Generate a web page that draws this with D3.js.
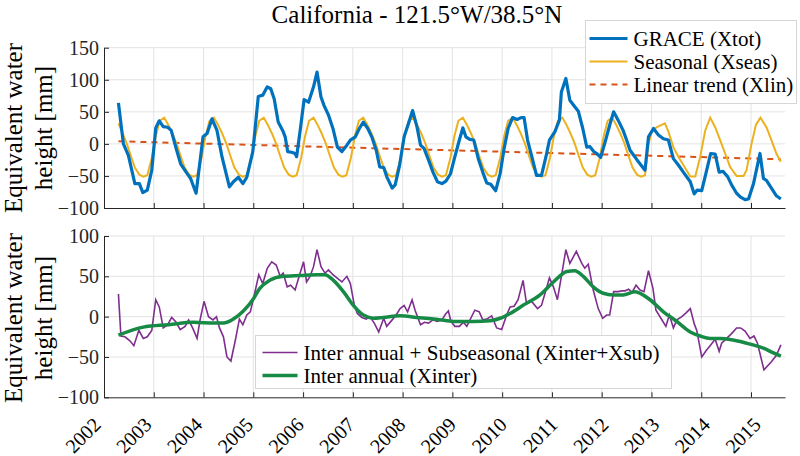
<!DOCTYPE html>
<html>
<head>
<meta charset="utf-8">
<script src="https://cdn.jsdelivr.net/npm/d3@7"></script>
<style>
	body { margin: 0; background: #fff; }
	svg { font-family: "Liberation Serif", "Times New Roman", serif; }
	.grid line { stroke: #e3e3e3; stroke-width: 1; }
	.axis path, .axis line { stroke: #262626; stroke-width: 1; }
	.axis text { fill: #262626; font-size: 20px; font-family: "Liberation Serif", serif; }
</style>
</head>
<body>
<svg id="chart"></svg>
<script>
// tick labels
const years		= [2002, 2003, 2004, 2005, 2006, 2007, 2008, 2009, 2010, 2011, 2012, 2013, 2014, 2015];
const topTicks	= [-100, -50, 0, 50, 100, 150];
const botTicks	= [-100, -50, 0, 50, 100];

// [decimal year, mm]
const xtot = [
	[2002.29,64],[2002.39,0],[2002.49,-18],[2002.62,-62],[2002.71,-62],[2002.78,-76],[2002.87,-72],[2002.96,-41],
	[2003.04,25],[2003.11,36],[2003.19,27],[2003.28,26],[2003.35,21],[2003.46,-10],[2003.54,-31],[2003.65,-44],[2003.74,-54],[2003.85,-77],
	[2003.99,11],[2004.07,16],[2004.17,39],[2004.27,21],[2004.37,-20],[2004.52,-67],[2004.60,-59],[2004.70,-52],[2004.79,-62],[2004.87,-52],
	[2004.99,-12],[2005.10,74],[2005.19,76],[2005.28,89],[2005.35,86],[2005.42,70],[2005.50,34],[2005.59,21],[2005.64,11],[2005.69,-12],
	[2005.77,-13],[2005.84,-15],[2005.87,-20],[2005.95,26],[2006.02,69],[2006.11,65],[2006.21,89],[2006.28,112],[2006.36,73],[2006.42,60],
	[2006.51,45],[2006.60,24],[2006.69,-5],[2006.78,-12],[2006.88,-2],[2006.95,6],[2007.05,11],[2007.13,24],[2007.21,34],[2007.30,24],
	[2007.38,11],[2007.47,-10],[2007.54,-36],[2007.62,-37],[2007.68,-51],[2007.79,-69],[2007.85,-64],[2007.94,-33],[2008.03,11],[2008.12,32],
	[2008.20,52],[2008.29,26],[2008.36,-2],[2008.43,-7],[2008.52,-25],[2008.61,-44],[2008.70,-59],[2008.79,-62],[2008.87,-58],[2008.96,-47],
	[2009.05,-20],[2009.14,6],[2009.21,25],[2009.27,11],[2009.35,7],[2009.43,6],[2009.52,-23],[2009.61,-44],[2009.69,-61],[2009.77,-63],
	[2009.87,-73],[2009.96,-46],[2010.04,-7],[2010.12,24],[2010.21,41],[2010.30,38],[2010.38,41],[2010.44,41],[2010.51,6],[2010.59,-18],
	[2010.69,-49],[2010.79,-49],[2010.88,-20],[2010.95,6],[2011.06,19],[2011.15,37],[2011.19,81],[2011.28,102],[2011.36,68],[2011.44,60],
	[2011.53,51],[2011.62,24],[2011.70,-5],[2011.76,-4],[2011.84,-12],[2011.90,-15],[2011.98,-21],[2012.08,6],[2012.16,29],[2012.24,50],
	[2012.33,37],[2012.43,21],[2012.50,6],[2012.57,-10],[2012.71,-25],[2012.87,-41],[2012.94,11],[2013.04,24],[2013.14,14],[2013.24,8],
	[2013.34,6],[2013.44,-23],[2013.54,-33],[2013.64,-44],[2013.78,-59],[2013.86,-78],[2013.92,-72],[2014.01,-73],[2014.10,-44],[2014.19,-15],
	[2014.28,-16],[2014.36,-44],[2014.44,-43],[2014.53,-51],[2014.61,-64],[2014.71,-77],[2014.79,-83],[2014.88,-87],[2014.95,-86],[2015.05,-62],
	[2015.13,-33],[2015.18,-15],[2015.25,-54],[2015.31,-57],[2015.41,-69],[2015.51,-81],[2015.60,-86]
];

const xseas = [
	[2002.29,32],[2002.37,17],[2002.46,0],[2002.54,-19],[2002.62,-37],[2002.71,-48],[2002.79,-51],[2002.87,-49],[2002.96,-22],
	[2003.04,12],[2003.12,36],[2003.21,41],[2003.29,30],[2003.37,17],[2003.46,0],[2003.54,-19],[2003.62,-37],[2003.71,-48],[2003.79,-51],[2003.87,-49],[2003.96,-22],
	[2004.04,12],[2004.12,36],[2004.21,41],[2004.29,30],[2004.37,17],[2004.46,0],[2004.54,-19],[2004.62,-37],[2004.71,-48],[2004.79,-51],[2004.87,-49],[2004.96,-22],
	[2005.04,12],[2005.12,36],[2005.21,41],[2005.29,30],[2005.37,17],[2005.46,0],[2005.54,-19],[2005.62,-37],[2005.71,-48],[2005.79,-51],[2005.87,-49],[2005.96,-22],
	[2006.04,12],[2006.12,36],[2006.21,41],[2006.29,30],[2006.37,17],[2006.46,0],[2006.54,-19],[2006.62,-37],[2006.71,-48],[2006.79,-51],[2006.87,-49],[2006.96,-22],
	[2007.04,12],[2007.12,36],[2007.21,41],[2007.29,30],[2007.37,17],[2007.46,0],[2007.54,-19],[2007.62,-37],[2007.71,-48],[2007.79,-51],[2007.87,-49],[2007.96,-22],
	[2008.04,12],[2008.12,36],[2008.21,41],[2008.29,30],[2008.37,17],[2008.46,0],[2008.54,-19],[2008.62,-37],[2008.71,-48],[2008.79,-51],[2008.87,-49],[2008.96,-22],
	[2009.04,12],[2009.12,36],[2009.21,41],[2009.29,30],[2009.37,17],[2009.46,0],[2009.54,-19],[2009.62,-37],[2009.71,-48],[2009.79,-51],[2009.87,-49],[2009.96,-22],
	[2010.04,12],[2010.12,36],[2010.21,41],[2010.29,30],[2010.37,17],[2010.46,0],[2010.54,-19],[2010.62,-37],[2010.71,-48],[2010.79,-51],[2010.87,-49],[2010.96,-22],
	[2011.04,12],[2011.12,36],[2011.21,41],[2011.29,30],[2011.37,17],[2011.46,0],[2011.54,-19],[2011.62,-37],[2011.71,-48],[2011.79,-51],[2011.87,-49],[2011.96,-22],
	[2012.04,12],[2012.12,36],[2012.21,41],[2012.29,30],[2012.37,17],[2012.46,0],[2012.54,-19],[2012.62,-37],[2012.71,-48],[2012.79,-51],[2012.87,-49],[2012.94,0],
	[2013.01,21],[2013.11,26],[2013.27,32],[2013.34,19],[2013.44,-5],[2013.54,-20],[2013.68,-38],[2013.78,-51],[2013.88,-51],[2013.98,-20],
	[2014.08,21],[2014.18,41],[2014.28,26],[2014.38,6],[2014.48,-15],[2014.58,-36],[2014.71,-50],[2014.85,-50],[2014.91,-41],[2015.01,0],
	[2015.10,30],[2015.19,41],[2015.31,26],[2015.41,6],[2015.51,-15],[2015.60,-28]
];

const xlin = [[2002.29,4],[2015.60,-24]];

const xsub = [
	[2002.29,28],[2002.34,-24],[2002.42,-25],[2002.52,-30],[2002.60,-36],[2002.70,-17],[2002.79,-27],[2002.87,-25],[2002.96,-17],
	[2003.04,21],[2003.11,12],[2003.19,-14],[2003.28,-10],[2003.36,-1],[2003.45,-7],[2003.53,-16],[2003.63,-12],[2003.70,-4],[2003.78,-14],
	[2003.87,-27],[2003.93,-4],[2004.01,19],[2004.10,0],[2004.19,-4],[2004.26,0],[2004.32,-14],[2004.40,-25],[2004.47,-50],[2004.55,-55],
	[2004.64,-29],[2004.72,-3],[2004.79,-10],[2004.87,2],[2004.94,6],[2005.02,27],[2005.11,52],[2005.19,41],[2005.28,60],[2005.37,68],
	[2005.46,64],[2005.54,50],[2005.60,54],[2005.68,37],[2005.75,39],[2005.84,33],[2005.93,52],[2006.01,68],[2006.07,43],[2006.14,50],
	[2006.21,62],[2006.28,83],[2006.36,62],[2006.44,54],[2006.51,58],[2006.60,52],[2006.68,48],[2006.78,43],[2006.88,50],[2006.95,41],
	[2007.03,14],[2007.09,4],[2007.18,-1],[2007.27,-3],[2007.34,0],[2007.43,-8],[2007.52,-19],[2007.62,-2],[2007.68,-12],[2007.79,-4],
	[2007.87,2],[2007.95,10],[2008.03,14],[2008.10,6],[2008.19,21],[2008.25,8],[2008.36,-10],[2008.44,-7],[2008.52,-8],[2008.61,-4],
	[2008.69,-6],[2008.79,-4],[2008.86,3],[2008.92,7],[2008.97,-6],[2009.05,-12],[2009.14,-12],[2009.22,-7],[2009.29,-12],[2009.37,-2],
	[2009.45,8],[2009.54,6],[2009.61,-4],[2009.69,-3],[2009.79,1],[2009.89,-14],[2009.99,-16],[2010.09,2],[2010.16,12],[2010.24,13],
	[2010.32,21],[2010.42,45],[2010.49,16],[2010.59,19],[2010.71,10],[2010.79,14],[2010.88,33],[2010.95,48],[2011.03,37],[2011.11,21],
	[2011.19,50],[2011.28,83],[2011.36,66],[2011.49,81],[2011.60,66],[2011.66,60],[2011.73,65],[2011.83,33],[2011.93,10],[2012.02,-2],
	[2012.10,2],[2012.16,2],[2012.24,31],[2012.33,31],[2012.41,32],[2012.47,32],[2012.54,34],[2012.61,30],[2012.69,39],[2012.77,33],
	[2012.85,31],[2012.94,57],[2013.03,35],[2013.09,8],[2013.19,-2],[2013.29,-12],[2013.36,2],[2013.44,-14],[2013.51,-4],[2013.61,0],
	[2013.70,5],[2013.78,10],[2013.86,-9],[2013.91,-17],[2014.01,-50],[2014.10,-42],[2014.19,-35],[2014.28,-28],[2014.36,-43],[2014.41,-33],
	[2014.51,-27],[2014.61,-21],[2014.71,-14],[2014.79,-14],[2014.88,-18],[2014.98,-27],[2015.06,-24],[2015.13,-33],[2015.26,-66],[2015.41,-56],
	[2015.51,-48],[2015.60,-35]
];

const xinter = [
	[2002.29,-23],[2002.79,-13],[2003.30,-10],[2003.80,-7],[2004.20,-8],[2004.40,-8],[2004.60,-3],[2004.80,7],[2005.00,22],[2005.13,35],
	[2005.33,45],[2005.60,50],[2005.94,51],[2006.28,52],[2006.44,52],[2006.61,45],[2006.81,31],[2007.01,14],[2007.21,2],[2007.42,-2],
	[2007.61,-1],[2007.95,1],[2008.28,-1],[2008.62,-3],[2008.89,-5],[2009.09,-6],[2009.42,-6],[2009.76,-5],[2009.96,-2],[2010.16,4],
	[2010.42,14],[2010.76,27],[2011.03,43],[2011.30,56],[2011.46,57],[2011.63,50],[2011.83,37],[2012.03,29],[2012.23,27],[2012.43,27],
	[2012.67,31],[2012.97,21],[2013.24,6],[2013.51,-6],[2013.78,-19],[2013.98,-24],[2014.18,-27],[2014.38,-27],[2014.64,-29],[2014.98,-34],
	[2015.25,-39],[2015.45,-45],[2015.60,-49]
];

let canvasWidth		= 800;
let canvasHeight	= 456;
let left			= 104;
let right			= 785;

let svg = d3.select('#chart')
	.attr('width', canvasWidth)
	.attr('height', canvasHeight);

let x = d3.scaleLinear()
	.domain([2002, 2002 + (right - left) / 49.77])
	.range([left, right]);

let yTop = d3.scaleLinear().domain([-100, 150]).range([208, 47.7]);
let yBot = d3.scaleLinear().domain([-100, 100]).range([397.3, 236]);

function panel(y, ticks) {
	let g = svg.append('g');
	let [y0, y1] = y.range();

	let grid = g.append('g').attr('class', 'grid');
	grid.selectAll('.gx').data(years.slice(1)).enter()
		.append('line')
			.attr('x1', (d) => x(d)).attr('x2', (d) => x(d))
			.attr('y1', y0).attr('y2', y1);
	grid.selectAll('.gy').data(ticks.slice(1)).enter()
		.append('line')
			.attr('x1', left).attr('x2', right)
			.attr('y1', (d) => y(d)).attr('y2', (d) => y(d));

	g.append('g')
		.attr('class', 'axis')
		.attr('transform', 'translate(' + left + ',0)')
		.call(d3.axisLeft(y).tickValues(ticks).tickSize(-5).tickSizeOuter(0).tickPadding(5));

	g.append('g')
		.attr('class', 'axis')
		.attr('transform', 'translate(0,' + y0 + ')')
		.call(d3.axisBottom(x).tickValues(years).tickSize(-5).tickSizeOuter(0).tickFormat(''));

	return g;
}

function ylabel(cy) {
	let t = svg.append('text')
		.attr('transform', 'translate(22,' + cy + ') rotate(-90)')
		.attr('text-anchor', 'middle')
		.style('font-size', '25px')
		.attr('fill', '#000');
	t.append('tspan').attr('x', 0).attr('y', 0).text('Equivalent water');
	t.append('tspan').attr('x', 0).attr('y', 30).text('height [mm]');
}

function lineOf(y, curve) {
	return d3.line().x((d) => x(d[0])).y((d) => y(d[1])).curve(curve || d3.curveLinear);
}

function legend(g, x0, y0, w, h, items) {
	let lg = g.append('g').attr('transform', 'translate(' + x0 + ',' + y0 + ')');
	lg.append('rect')
		.attr('width', w).attr('height', h)
		.attr('fill', '#fff').attr('stroke', '#d6d6d6').attr('stroke-width', 1);
	items.forEach((o, i) => {
		let cy = o.dy;
		lg.append('line')
			.attr('x1', o.lx0).attr('x2', o.lx1)
			.attr('y1', cy).attr('y2', cy)
			.attr('stroke', o.color).attr('stroke-width', o.width)
			.attr('stroke-dasharray', o.dash || null);
		lg.append('text')
			.attr('x', o.tx).attr('y', cy + 7)
			.style('font-size', '21px')
			.attr('fill', '#000')
			.text(o.label);
	});
}

// top panel
let top_ = panel(yTop, topTicks);
top_.append('path').attr('d', lineOf(yTop)(xlin))
	.attr('fill', 'none').attr('stroke', '#D95319').attr('stroke-width', 2).attr('stroke-dasharray', '6,5');
top_.append('path').attr('d', lineOf(yTop)(xseas))
	.attr('fill', 'none').attr('stroke', '#EDB120').attr('stroke-width', 2);
top_.append('path').attr('d', lineOf(yTop)(xtot))
	.attr('fill', 'none').attr('stroke', '#0072BD').attr('stroke-width', 3.2).attr('stroke-linejoin', 'round');

legend(svg, 585.5, 20.5, 211, 83, [
	{ label: 'GRACE (Xtot)', color: '#0072BD', width: 3.2, dy: 18, lx0: 4, lx1: 42, tx: 48 },
	{ label: 'Seasonal (Xseas)', color: '#EDB120', width: 2, dy: 41, lx0: 4, lx1: 42, tx: 48 },
	{ label: 'Linear trend (Xlin)', color: '#D95319', width: 2, dash: '6,5', dy: 64, lx0: 4, lx1: 42, tx: 48 }
]);

// bottom panel
let bot = panel(yBot, botTicks);
bot.append('path').attr('d', lineOf(yBot)(xsub))
	.attr('fill', 'none').attr('stroke', '#7E2F8E').attr('stroke-width', 1.6);
bot.append('path').attr('d', lineOf(yBot, d3.curveMonotoneX)(xinter))
	.attr('fill', 'none').attr('stroke', '#178A46').attr('stroke-width', 3.5);

legend(svg, 255.5, 335.5, 416, 53, [
	{ label: 'Inter annual + Subseasonal (Xinter+Xsub)', color: '#7E2F8E', width: 1.6, dy: 17, lx0: 7, lx1: 42, tx: 48 },
	{ label: 'Inter annual (Xinter)', color: '#178A46', width: 3.5, dy: 40, lx0: 7, lx1: 42, tx: 48 }
]);

// rotated year labels
svg.append('g').selectAll('text').data(years).enter()
	.append('text')
		.attr('transform', (d, i) => 'translate(' + (x(d) - 2 + i) + ',426) rotate(-45)')
		.attr('text-anchor', 'end')
		.style('font-size', '20px')
		.attr('fill', '#000')
		.text((d) => d);

ylabel(128);
ylabel(318);

svg.append('text')
	.attr('x', 417).attr('y', 23)
	.attr('text-anchor', 'middle')
	.style('font-size', '25px')
	.attr('fill', '#000')
	.text('California - 121.5°W/38.5°N');
</script>
</body>
</html>
